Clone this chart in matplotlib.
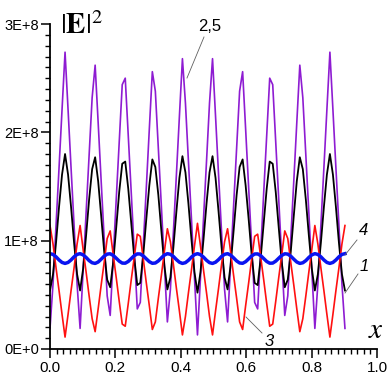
import matplotlib
matplotlib.use('Agg')
import matplotlib.pyplot as plt
import numpy as np

plt.rcParams['font.family'] = ['Liberation Sans', 'DejaVu Sans']
plt.rcParams['mathtext.fontset'] = 'stix'

# sample positions along x
x = np.linspace(0, 0.902, 99)

# |E|^2 in units of 1E+8
curve_25 = [0.19, 0.60, 1.14, 1.67, 2.21, 2.74, 2.21, 1.67, 1.14, 0.60,
            0.19, 0.72, 1.26, 1.79, 2.32, 2.62, 2.09, 1.55, 1.02, 0.49,
            0.31, 0.84, 1.38, 1.91, 2.44, 2.50, 1.97, 1.44, 0.90, 0.37,
            0.43, 0.96, 1.49, 2.03, 2.56, 2.38, 1.85, 1.32, 0.78, 0.25,
            0.55, 1.08, 1.61, 2.15, 2.68, 2.27, 1.73, 1.20, 0.66, 0.13,
            0.66, 1.20, 1.73, 2.27, 2.68, 2.15, 1.61, 1.08, 0.55, 0.25,
            0.78, 1.32, 1.85, 2.38, 2.56, 2.03, 1.49, 0.96, 0.43, 0.37,
            0.90, 1.44, 1.97, 2.50, 2.44, 1.91, 1.38, 0.84, 0.31, 0.49,
            1.02, 1.55, 2.09, 2.62, 2.32, 1.79, 1.26, 0.72, 0.19, 0.60,
            1.14, 1.67, 2.21, 2.74, 2.21, 1.67, 1.14, 0.60, 0.19]

curve_1 = [0.54, 0.69, 0.98, 1.31, 1.61, 1.80, 1.61, 1.31, 0.98, 0.69,
           0.54, 0.74, 1.05, 1.38, 1.66, 1.77, 1.55, 1.23, 0.90, 0.64,
           0.57, 0.80, 1.12, 1.45, 1.71, 1.73, 1.48, 1.16, 0.84, 0.59,
           0.61, 0.87, 1.20, 1.51, 1.75, 1.68, 1.42, 1.09, 0.77, 0.55,
           0.66, 0.94, 1.27, 1.58, 1.78, 1.63, 1.34, 1.01, 0.71, 0.52,
           0.71, 1.01, 1.34, 1.63, 1.78, 1.58, 1.27, 0.94, 0.66, 0.55,
           0.77, 1.09, 1.42, 1.68, 1.75, 1.51, 1.20, 0.87, 0.61, 0.59,
           0.84, 1.16, 1.48, 1.73, 1.71, 1.45, 1.12, 0.80, 0.57, 0.64,
           0.90, 1.23, 1.55, 1.77, 1.66, 1.38, 1.05, 0.74, 0.54, 0.69,
           0.98, 1.31, 1.61, 1.80, 1.61, 1.31, 0.98, 0.69, 0.54]

curve_3 = [1.14, 0.97, 0.75, 0.54, 0.32, 0.11, 0.32, 0.54, 0.75, 0.97,
           1.14, 0.92, 0.71, 0.49, 0.28, 0.16, 0.37, 0.59, 0.80, 1.02,
           1.09, 0.87, 0.66, 0.44, 0.23, 0.21, 0.42, 0.64, 0.85, 1.06,
           1.04, 0.83, 0.61, 0.40, 0.18, 0.25, 0.47, 0.68, 0.90, 1.11,
           0.99, 0.78, 0.56, 0.35, 0.13, 0.30, 0.52, 0.73, 0.95, 1.16,
           0.95, 0.73, 0.52, 0.30, 0.13, 0.35, 0.56, 0.78, 0.99, 1.11,
           0.90, 0.68, 0.47, 0.25, 0.18, 0.40, 0.61, 0.83, 1.04, 1.06,
           0.85, 0.64, 0.42, 0.21, 0.23, 0.44, 0.66, 0.87, 1.09, 1.02,
           0.80, 0.59, 0.37, 0.16, 0.28, 0.49, 0.71, 0.92, 1.14, 0.97,
           0.75, 0.54, 0.32, 0.11, 0.32, 0.54, 0.75, 0.97, 1.14]

curve_4 = [0.880, 0.873, 0.851, 0.822, 0.799, 0.790, 0.799, 0.822, 0.851, 0.873,
           0.880, 0.869, 0.845, 0.816, 0.796, 0.790, 0.803, 0.829, 0.857, 0.876,
           0.879, 0.864, 0.838, 0.811, 0.793, 0.792, 0.808, 0.835, 0.862, 0.878,
           0.877, 0.859, 0.832, 0.806, 0.791, 0.794, 0.813, 0.841, 0.867, 0.880,
           0.874, 0.854, 0.825, 0.801, 0.790, 0.797, 0.819, 0.848, 0.871, 0.880,
           0.871, 0.848, 0.819, 0.797, 0.790, 0.801, 0.825, 0.854, 0.874, 0.880,
           0.867, 0.841, 0.813, 0.794, 0.791, 0.806, 0.832, 0.859, 0.877, 0.878,
           0.862, 0.835, 0.808, 0.792, 0.793, 0.811, 0.838, 0.864, 0.879, 0.876,
           0.857, 0.829, 0.803, 0.790, 0.796, 0.816, 0.845, 0.869, 0.880, 0.873,
           0.851, 0.822, 0.799, 0.790, 0.799, 0.822, 0.851, 0.873, 0.880]

xticks = [0.0, 0.2, 0.4, 0.6, 0.8, 1.0]
xticklabels = ['0.0', '0.2', '0.4', '0.6', '0.8', '1.0']
yticks = [0, 1e8, 2e8, 3e8]
yticklabels = ['0E+0', '1E+8', '2E+8', '3E+8']

scale = 1e8

fig = plt.figure(figsize=(3.89, 3.79), dpi=100)
ax = fig.add_axes([50/389, 30/379, 327/389, 325/379])

ax.plot(x, np.array(curve_25)*scale, color='#8E1CD2', lw=1.2)
ax.plot(x, np.array(curve_1)*scale, color='black', lw=1.3)
ax.plot(x, np.array(curve_3)*scale, color='#FF1010', lw=1.2)
ax.plot(x, np.array(curve_4)*scale, color='#0A14F0', lw=2.5)

ax.set_xlim(0, 1.0)
ax.set_ylim(0, 3e8)
ax.set_xticks(xticks)
ax.set_xticklabels(xticklabels)
ax.set_yticks(yticks)
ax.set_yticklabels(yticklabels)
ax.set_xticks(np.arange(0, 1.001, 0.02), minor=True)
ax.set_yticks(np.arange(0, 3.01e8, 1e7), minor=True)

for s in ['top', 'right']:
    ax.spines[s].set_visible(False)
for s in ['left', 'bottom']:
    ax.spines[s].set_linewidth(1.3)

ax.tick_params(which='major', direction='out', length=6.5, width=1.1,
               labelsize=10.5, pad=1.5)
ax.tick_params(which='minor', direction='out', length=3.5, width=1.0)
ax.tick_params(axis='x', labelsize=11, pad=2)

# axis titles
fig.text(60/389, 1 - 34/379, r'$|\mathbf{E}|^2$', fontsize=21, va='baseline')
fig.text(368/389, 1 - 338/379, r'$x$', fontsize=21, va='baseline')

# curve labels with leader lines
def px(xp, yp):
    return (xp - 50) / 327, (349 - yp) / 108.33 * scale

def label(txt, p0, p1, pt, style='normal'):
    (x0, y0), (x1, y1) = px(*p0), px(*p1)
    ax.plot([x0, x1], [y0, y1], color='#606060', lw=0.6, clip_on=False)
    tx, ty = px(*pt)
    ax.text(tx, ty, txt, fontsize=12, style=style, ha='center', va='center',
            clip_on=False)

label('2,5', (187, 78), (204, 37), (210, 27))
label('4', (345, 255), (357, 240), (364, 231), 'italic')
label('1', (345, 293), (358, 274), (364, 267), 'italic')
label('3', (246, 317), (262, 333), (269, 342), 'italic')

fig.savefig('out.png', dpi=100)
